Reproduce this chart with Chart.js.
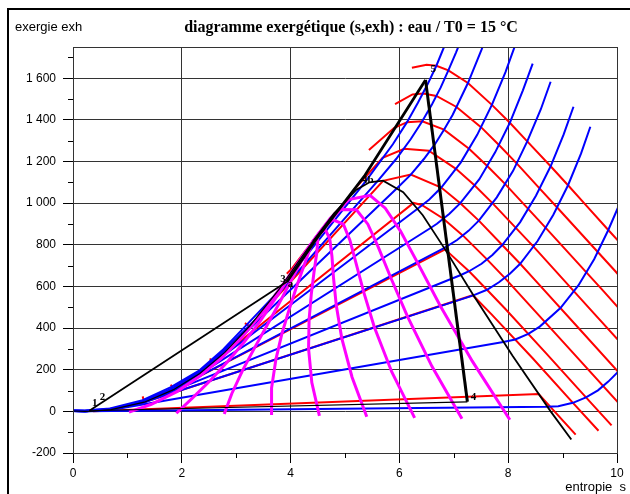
<!DOCTYPE html>
<html>
<head>
<meta charset="utf-8">
<script src="https://cdn.jsdelivr.net/npm/chart.js@4.4.1/dist/chart.umd.min.js"></script>
<style>
html, body { margin: 0; padding: 0; background: #fff; }
canvas { display: block; }
</style>
</head>
<body>
<canvas id="chart" width="630" height="494"></canvas>
<script>
// points are [s, exh]

// saturation dome
var satLiquid = [[0,1.7],[0.22,0],[0.37,1],[0.70,8],[1.31,44],[1.84,103],[2.33,182],[2.79,283],[3.25,410],[3.78,583],[4.11,707],[4.41,816]];
var satVapor = [[4.41,816],[4.80,951],[5.21,1065],[5.45,1100],[5.70,1108],[6.07,1053],[6.43,942],[6.84,778],[7.36,558],[8.08,267],[8.78,0],[9.16,-135]];

// isobars (blue)
var p002 = [[0,1.7],[0.26,0],[8.72,22],[8.92,25],[9.19,41],[9.43,67],[9.65,101],[9.84,143],[10.02,190]];
var p02 = [[0,1.7],[0.22,0],[0.57,4],[0.83,13],[7.91,333],[8.13,345],[8.37,372],[8.58,407],[8.96,496],[9.29,605],[9.58,731],[9.84,871],[10.04,992]];
var p1 = [[0,1.7],[0.22,0],[0.70,8],[1.30,44],[7.36,557],[7.61,584],[7.83,620],[8.03,661],[8.22,709],[8.54,818],[8.83,944],[9.10,1086],[9.34,1239],[9.51,1367]];
var p2 = [[0,1.7],[0.22,0],[0.70,8],[1.31,44],[1.53,66],[7.13,655],[7.28,673],[7.51,709],[7.71,751],[7.89,799],[8.22,909],[8.51,1036],[8.78,1177],[9.02,1330],[9.20,1463]];
var p5 = [[0,1.7],[0.22,0],[0.70,8],[1.31,44],[1.86,106],[6.82,784],[7.06,823],[7.27,867],[7.46,916],[7.79,1028],[8.09,1155],[8.35,1297],[8.60,1451],[8.78,1583]];
var p10 = [[0,1.7],[0.22,0],[0.70,9],[1.31,45],[1.84,104],[2.14,148],[6.58,882],[6.69,901],[6.92,949],[7.12,1000],[7.47,1115],[7.76,1244],[8.03,1386],[8.27,1542],[8.45,1670]];
var p20 = [[0,2],[0.22,1],[0.70,9],[1.31,46],[1.84,105],[2.45,205],[6.34,974],[6.55,1018],[6.77,1075],[7.13,1196],[7.43,1328],[7.70,1472],[7.95,1629],[8.18,1796]];
var p50 = [[0,3],[0.22,2],[0.70,10],[1.30,47],[1.83,107],[2.32,186],[2.92,315],[5.97,1075],[6.21,1137],[6.45,1212],[6.65,1282],[6.82,1353],[6.98,1425],[7.26,1577],[7.51,1737],[7.63,1825]];
var p100 = [[0,4],[0.22,3],[0.69,12],[1.29,50],[1.82,110],[2.31,190],[2.77,291],[3.36,441],[5.61,1109],[5.94,1212],[6.21,1308],[6.42,1393],[6.60,1475],[6.76,1556],[6.90,1638],[7.04,1723],[7.17,1807]];
var p150 = [[0,5],[0.22,4],[0.68,14],[1.28,54],[1.80,116],[2.31,194],[2.76,297],[3.20,418],[3.68,550],[5.31,1082],[5.44,1126],[5.88,1283],[6.14,1389],[6.34,1482],[6.52,1572],[6.68,1660],[6.82,1750],[6.95,1835]];

// isotherms (red): 25, 100, 150, 225, 300, 375, 450, 525, 600 °C
var t25 = [[0.37,1],[8.56,83],[9.24,-112]];
var t100 = [[1.28,72],[1.31,44],[7.35,558],[7.69,467],[8.45,255],[9.19,41],[9.66,-93]];
var t150 = [[1.80,128],[1.84,103],[6.84,778],[7.28,673],[7.61,584],[7.94,494],[8.69,281],[9.43,67],[9.90,-67]];
var t225 = [[2.52,255],[2.56,230],[6.26,1001],[6.41,991],[6.81,925],[7.17,844],[7.61,730],[7.94,640],[9.00,336],[10.1,20]];
var t300 = [[3.16,424],[3.25,408],[5.70,1107],[6.21,1137],[6.77,1075],[7.12,1000],[7.46,916],[7.89,799],[8.22,709],[8.54,617],[9.28,404],[10.1,168]];
var t375 = [[3.93,661],[4.03,688],[4.27,771],[4.91,972],[5.18,1069],[5.69,1218],[6.09,1261],[6.54,1252],[7.04,1165],[7.38,1086],[7.71,1000],[8.47,790],[9.53,484],[10.1,320]];
var t450 = [[5.44,1255],[5.90,1361],[6.14,1389],[6.42,1393],[6.82,1353],[7.28,1261],[7.62,1177],[7.95,1090],[8.69,881],[9.76,575],[10.1,476]];
var t525 = [[5.92,1476],[6.24,1522],[6.44,1527],[6.68,1515],[7.05,1462],[7.50,1365],[7.83,1279],[8.16,1190],[8.58,1070],[8.90,979],[9.97,673],[10.1,634]];
var t600 = [[6.23,1650],[6.50,1665],[6.68,1660],[6.90,1638],[7.26,1577],[7.70,1472],[8.03,1386],[8.35,1297],[8.78,1177],[9.10,1086],[9.42,993],[9.84,871],[10.1,797]];

// constant quality lines (magenta), x = 0.1 ... 0.9
var x01 = [[1.03,-4],[1.44,34],[1.91,95],[2.34,171],[2.74,258],[3.12,360],[3.50,480],[3.92,631],[4.18,731],[4.41,816]];
var x02 = [[1.90,-9],[2.18,60],[2.52,147],[2.84,238],[3.15,334],[3.45,437],[3.74,550],[4.06,679],[4.25,756],[4.41,816]];
var x03 = [[2.78,-13],[2.92,86],[3.12,198],[3.34,306],[3.56,410],[3.78,514],[3.99,619],[4.21,728],[4.32,780],[4.41,816]];
var x04 = [[3.65,-18],[3.65,112],[3.73,250],[3.84,373],[3.97,486],[4.10,591],[4.23,689],[4.35,776],[4.39,805],[4.41,816]];
var x05 = [[4.53,-22],[4.39,138],[4.33,301],[4.34,441],[4.38,562],[4.43,668],[4.48,759],[4.50,824],[4.46,829],[4.41,816]];
var x06 = [[5.40,-26],[5.13,164],[4.94,352],[4.84,508],[4.79,638],[4.76,745],[4.72,829],[4.64,872],[4.52,853],[4.41,816]];
var x07 = [[6.28,-31],[5.86,189],[5.54,404],[5.34,576],[5.20,714],[5.09,822],[4.97,899],[4.78,920],[4.59,878],[4.41,816]];
var x08 = [[7.15,-35],[6.60,215],[6.15,455],[5.84,643],[5.61,790],[5.42,899],[5.21,968],[4.92,969],[4.66,902],[4.41,816]];
var x09 = [[8.03,-40],[7.34,241],[6.75,507],[6.34,711],[6.02,866],[5.74,976],[5.46,1038],[5.07,1017],[4.73,927],[4.41,816]];

// cycle
var cyclePump = [[0.30,3],[3.93,622]];
var cycleHeat = [[3.93,622],[4.45,820],[5.37,1135],[6.48,1592]];
var cycleExpand = [[6.48,1592],[7.25,46]];
var cycleCondense = [[7.25,46],[0.30,3]];

var pointLabels = [['1',0.40,38],['2',0.54,66],['3',3.86,636],['a',4.00,612],['4b',5.42,1110],['5',6.62,1642],['4',7.36,70]];

var isobars = [p002, p02, p1, p2, p5, p10, p20, p50, p100, p150];
var isotherms = [t25, t100, t150, t225, t300, t375, t450, t525, t600];
var qualities = [x01, x02, x03, x04, x05, x06, x07, x08, x09];

function curve(pts, color, width, order) {
    return {
        data: pts.map(function(p) { return {x: p[0], y: p[1]}; }),
        showLine: true,
        borderColor: color,
        borderWidth: width,
        pointRadius: 0,
        tension: 0,
        fill: false,
        order: order
    };
}

var datasets = [];
isotherms.forEach(function(p) { datasets.push(curve(p, '#ff0000', 2, 5)); });
isobars.forEach(function(p) { datasets.push(curve(p, '#0000ff', 2, 4)); });
qualities.forEach(function(p) { datasets.push(curve(p, '#ff00ff', 3, 3)); });
datasets.push(curve(satLiquid, '#000000', 1.2, 2));
datasets.push(curve(satVapor, '#000000', 1.8, 2));
datasets.push(curve(cyclePump, '#000000', 1.8, 1));
datasets.push(curve(cycleHeat, '#000000', 2.8, 1));
datasets.push(curve(cycleExpand, '#000000', 3, 1));
datasets.push(curve(cycleCondense, '#000000', 1.2, 1));

function thousands(v) {
    var a = Math.abs(v), s = String(a);
    if (a >= 1000) s = s.slice(0, -3) + ' ' + s.slice(-3);
    return (v < 0 ? '-' : '') + s;
}

var decor = {
    id: 'decor',
    afterDraw: function(chart) {
        var ctx = chart.ctx, a = chart.chartArea;
        var xs = chart.scales.x, ys = chart.scales.y;
        ctx.save();
        // plot frame
        ctx.strokeStyle = '#333';
        ctx.lineWidth = 1;
        ctx.strokeRect(a.left + 0.5, a.top + 0.5, a.right - a.left, a.bottom - a.top);
        // minor ticks
        ctx.strokeStyle = '#000';
        ctx.beginPath();
        for (var v = -100; v <= 1700; v += 200) {
            var py = Math.round(ys.getPixelForValue(v)) + 0.5;
            ctx.moveTo(a.left - 5, py); ctx.lineTo(a.left, py);
        }
        for (var u = 1; u < 10; u += 2) {
            var px = Math.round(xs.getPixelForValue(u)) + 0.5;
            ctx.moveTo(px, a.bottom); ctx.lineTo(px, a.bottom + 5);
        }
        ctx.stroke();
        // outer frame
        ctx.fillStyle = '#000';
        ctx.fillRect(7, 8, 2, 494);
        ctx.fillRect(7, 8, 630, 2);
        // texts
        ctx.textBaseline = 'middle';
        ctx.font = '13px "Liberation Sans", Arial, sans-serif';
        ctx.textAlign = 'left';
        ctx.fillText('exergie exh', 15, 27);
        ctx.textAlign = 'right';
        ctx.fillText('entropie  s', 626, 487);
        ctx.textAlign = 'center';
        ctx.font = 'bold 16px "Liberation Serif", "Times New Roman", serif';
        ctx.fillText('diagramme exergétique (s,exh) : eau / T0 = 15 °C', 351, 28);
        // cycle point labels
        ctx.font = 'bold 11px "Liberation Serif", serif';
        pointLabels.forEach(function(l) {
            ctx.fillText(l[0], xs.getPixelForValue(l[1]), ys.getPixelForValue(l[2]));
        });
        ctx.restore();
    }
};

Chart.defaults.font.family = '"Liberation Sans", Arial, sans-serif';
Chart.defaults.color = '#000';

new Chart(document.getElementById('chart'), {
    type: 'scatter',
    data: { datasets: datasets },
    options: {
        responsive: false,
        animation: false,
        layout: { padding: { left: 0, right: 13, top: 47, bottom: 0 } },
        plugins: {
            legend: { display: false },
            tooltip: { enabled: false }
        },
        scales: {
            x: {
                type: 'linear',
                min: 0,
                max: 10,
                ticks: { stepSize: 2, padding: 3, font: { size: 12 }, color: '#000' },
                grid: { color: '#333', lineWidth: 1, tickLength: 10, tickColor: '#000' },
                border: { color: '#000' },
                afterFit: function(s) { s.height = 41; }
            },
            y: {
                type: 'linear',
                min: -200,
                max: 1750,
                ticks: { stepSize: 200, includeBounds: false, padding: 7, font: { size: 12 }, color: '#000', callback: thousands },
                grid: { color: '#333', lineWidth: 1, tickLength: 10, tickColor: '#000' },
                border: { color: '#000' },
                afterFit: function(s) { s.width = 73; }
            }
        }
    },
    plugins: [decor]
});
</script>
</body>
</html>
